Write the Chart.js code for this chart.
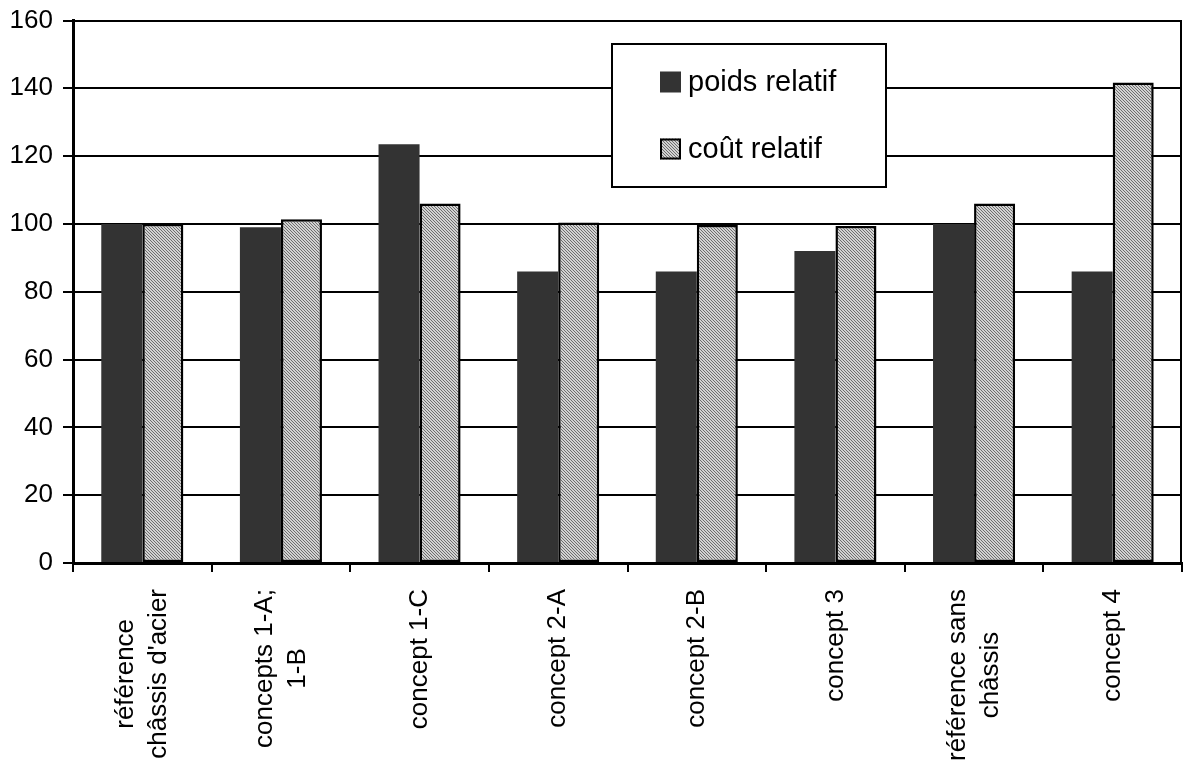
<!DOCTYPE html>
<html lang="fr">
<head>
<meta charset="utf-8">
<title>Poids et coût relatifs</title>
<script src="https://cdn.jsdelivr.net/npm/chart.js@4/dist/chart.umd.min.js"></script>
<style>
  html, body { margin: 0; padding: 0; background: #ffffff; }
  canvas { display: block; }
</style>
</head>
<body>
<canvas id="chart" width="1183" height="763"></canvas>
<script>
// Catégories (une ligne par élément de tableau)
const categories = [
  ["référence", "châssis d'acier"],
  ["concepts 1-A;", "1-B"],
  ["concept 1-C"],
  ["concept 2-A"],
  ["concept 2-B"],
  ["concept 3"],
  ["référence sans", "châssis"],
  ["concept 4"]
];
const poidsRelatif = [100, 99, 123.5, 86, 86, 92, 100, 86];
const coutRelatif = [100, 101.4, 106, 100.4, 99.7, 99.4, 106, 141.7];
const seriesNames = ["poids relatif", "coût relatif"];
const yTicks = [0, 20, 40, 60, 80, 100, 120, 140, 160];

const FONT = "'Liberation Sans', Arial, Helvetica, sans-serif";

// Fine diagonal hatch fill
function makeHatch() {
  const c = document.createElement('canvas');
  c.width = 3; c.height = 3;
  const g = c.getContext('2d');
  g.fillStyle = '#d2d2d2';
  g.fillRect(0, 0, 3, 3);
  g.fillStyle = '#6e6e6e';
  for (let i = 0; i < 3; i++) g.fillRect(i, i, 1, 1);
  return c;
}
const ctx = document.getElementById('chart').getContext('2d');
const hatch = ctx.createPattern(makeHatch(), 'repeat');

// Frame line on the right edge of the plot
const frameRight = {
  id: 'frameRight',
  beforeDatasetsDraw(chart) {
    const { ctx, chartArea: a } = chart;
    ctx.save();
    ctx.strokeStyle = '#000';
    ctx.lineWidth = 2;
    ctx.beginPath();
    ctx.moveTo(a.right - 1, a.top);
    ctx.lineTo(a.right - 1, a.bottom);
    ctx.stroke();
    ctx.restore();
  }
};

// Vertical category labels, lines centred on each other
const categoryLabels = {
  id: 'categoryLabels',
  afterDraw(chart) {
    const { ctx } = chart;
    const xs = chart.scales.x;
    const top = chart.chartArea.bottom + 26;
    const lineH = 33;
    ctx.save();
    ctx.font = '26px ' + FONT;
    ctx.fillStyle = '#000';
    ctx.textAlign = 'center';
    ctx.textBaseline = 'middle';
    categories.forEach((lines, i) => {
      const x = xs.getPixelForValue(i);
      const maxW = Math.max(...lines.map(l => ctx.measureText(l).width));
      ctx.save();
      ctx.translate(x, top);
      ctx.rotate(-Math.PI / 2);
      lines.forEach((l, k) => {
        const off = (k - (lines.length - 1) / 2) * lineH;
        ctx.fillText(l, -maxW / 2, off);
      });
      ctx.restore();
    });
    ctx.restore();
  }
};

// Boxed legend inside the plot
const boxLegend = {
  id: 'boxLegend',
  afterDraw(chart) {
    const { ctx } = chart;
    const box = { x: 612, y: 44, w: 274, h: 143 };
    ctx.save();
    ctx.fillStyle = '#fff';
    ctx.fillRect(box.x, box.y, box.w, box.h);
    ctx.strokeStyle = '#000';
    ctx.lineWidth = 2;
    ctx.strokeRect(box.x, box.y, box.w, box.h);
    const rows = [82, 149];
    ctx.font = '29px ' + FONT;
    ctx.textBaseline = 'middle';
    ctx.textAlign = 'left';
    chart.data.datasets.forEach((ds, i) => {
      const cy = rows[i];
      ctx.fillStyle = ds.backgroundColor;
      ctx.fillRect(660, cy - 10.5, 21, 21);
      if (ds.borderWidth) {
        ctx.strokeStyle = '#000';
        ctx.lineWidth = 2;
        ctx.strokeRect(661, cy - 9.5, 19, 19);
      }
      ctx.fillStyle = '#000';
      ctx.fillText(ds.label, 688, cy + 1);
    });
    ctx.restore();
  }
};

new Chart(ctx, {
  type: 'bar',
  data: {
    labels: categories.map(c => c.join(' ')),
    datasets: [
      {
        label: seriesNames[0],
        data: poidsRelatif,
        backgroundColor: '#333333',
        borderWidth: 0,
        categoryPercentage: 0.592,
        barPercentage: 1.0
      },
      {
        label: seriesNames[1],
        data: coutRelatif,
        backgroundColor: hatch,
        borderColor: '#000000',
        borderWidth: 2.5,
        borderSkipped: false,
        categoryPercentage: 0.592,
        barPercentage: 1.0
      }
    ]
  },
  options: {
    responsive: false,
    animation: false,
    devicePixelRatio: 1,
    layout: { padding: { top: 20.5, right: 1, left: 0, bottom: 0 } },
    plugins: {
      legend: { display: false },
      tooltip: { enabled: false }
    },
    scales: {
      x: {
        offset: true,
        grid: {
          offset: true,
          drawOnChartArea: false,
          drawTicks: true,
          tickLength: 9,
          color: '#000',
          lineWidth: 2
        },
        border: { display: true, color: '#000', width: 3 },
        ticks: { display: false },
        afterFit(s) { s.height = 200; s.paddingLeft = 0; s.paddingRight = 0; }
      },
      y: {
        min: 0,
        max: 160,
        afterBuildTicks(s) { s.ticks = yTicks.map(v => ({ value: v })); },
        grid: {
          color: '#000',
          lineWidth: 2,
          drawTicks: true,
          tickLength: 10
        },
        border: { display: true, color: '#000', width: 3 },
        ticks: {
          color: '#000',
          font: { family: FONT, size: 26 },
          padding: 10
        },
        afterFit(s) { s.width = 73; s.paddingTop = 0; s.paddingBottom = 0; }
      }
    }
  },
  plugins: [frameRight, categoryLabels, boxLegend]
});
</script>
</body>
</html>
